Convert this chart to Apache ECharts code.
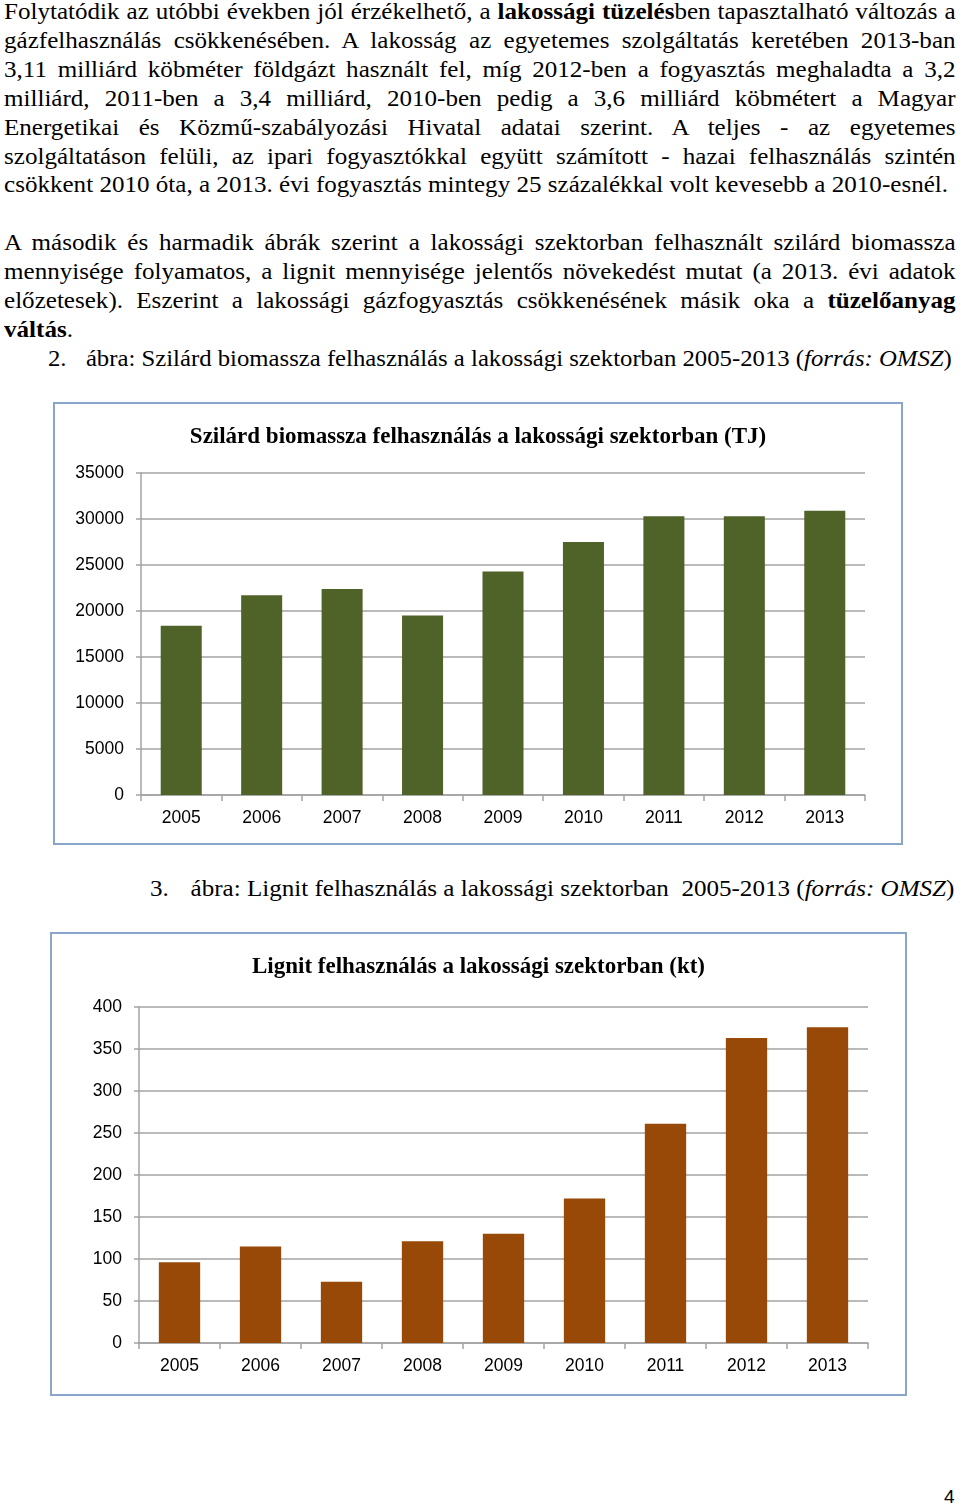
<!DOCTYPE html>
<html>
<head>
<meta charset="utf-8">
<script src="https://cdn.jsdelivr.net/npm/echarts@6/dist/echarts.min.js"></script>
<style>
  html, body { margin: 0; padding: 0; background: #fff; }
  body { width: 960px; height: 1509px; position: relative; overflow: hidden; font-family: "Liberation Serif", "Times New Roman", serif; color: #000; }
  .ln { position: absolute; left: 4px; width: 873px; height: 29px; line-height: 29px; font-size: 23px; white-space: nowrap;
        transform: scaleX(1.09); transform-origin: 0 0; }
  .j { text-align: justify; text-align-last: justify; }
  .box { position: absolute; border: 2px solid #8aa5cc; box-sizing: border-box; }
  .chart { position: absolute; }
</style>
</head>
<body>
<div class="ln j" style="top:-3px">Folytatódik az utóbbi években jól érzékelhető, a <b>lakossági tüzelés</b>ben tapasztalható változás a</div>
<div class="ln j" style="top:26px">gázfelhasználás csökkenésében. A lakosság az egyetemes szolgáltatás keretében 2013-ban</div>
<div class="ln j" style="top:55px">3,11 milliárd köbméter földgázt használt fel, míg 2012-ben a fogyasztás meghaladta a 3,2</div>
<div class="ln j" style="top:84px">milliárd, 2011-ben a 3,4 milliárd, 2010-ben pedig a 3,6 milliárd köbmétert a Magyar</div>
<div class="ln j" style="top:113px">Energetikai és Közmű-szabályozási Hivatal adatai szerint. A teljes - az egyetemes</div>
<div class="ln j" style="top:142px">szolgáltatáson felüli, az ipari fogyasztókkal együtt számított - hazai felhasználás szintén</div>
<div class="ln" style="top:170px">csökkent 2010 óta, a 2013. évi fogyasztás mintegy 25 százalékkal volt kevesebb a 2010-esnél.</div>

<div class="ln j" style="top:228px">A második és harmadik ábrák szerint a lakossági szektorban felhasznált szilárd biomassza</div>
<div class="ln j" style="top:257px">mennyisége folyamatos, a lignit mennyisége jelentős növekedést mutat (a 2013. évi adatok</div>
<div class="ln j" style="top:286px">előzetesek). Eszerint a lakossági gázfogyasztás csökkenésének másik oka a <b>tüzelőanyag</b></div>
<div class="ln" style="top:315px"><b>váltás</b>.</div>
<div class="ln" style="top:344px; left:48px; transform: scaleX(1.075);">2.<span style="display:inline-block;width:18px"></span>ábra: Szilárd biomassza felhasználás a lakossági szektorban 2005-2013 (<i>forrás: OMSZ</i>)</div>

<div class="box" style="left:53px; top:402px; width:850px; height:443px;"></div>
<div class="chart" id="c1" style="left:55px; top:404px; width:846px; height:439px;"></div>

<div class="ln" style="top:874px; left:150px;">3.<span style="display:inline-block;width:20px"></span>ábra: Lignit felhasználás a lakossági szektorban&nbsp; 2005-2013 (<i>forrás: OMSZ</i>)</div>

<div class="box" style="left:50px; top:932px; width:857px; height:464px;"></div>
<div class="chart" id="c2" style="left:52px; top:934px; width:853px; height:460px;"></div>

<div style="position:absolute; left:944px; top:1486px; font-family:'Liberation Sans', Arial, sans-serif; font-size:19px;">4</div>

<script>
const years = ['2005','2006','2007','2008','2009','2010','2011','2012','2013'];
const biomassTJ = [18400, 21700, 22400, 19500, 24300, 27500, 30300, 30300, 30900];
const ligniteKt = [96, 115, 73, 121, 130, 172, 261, 363, 376];
const title1 = 'Szilárd biomassza felhasználás a lakossági szektorban (TJ)';
const title2 = 'Lignit felhasználás a lakossági szektorban (kt)';

function makeOption(title, data, color, max, interval, grid) {
  const gray = '#a3a3a3';
  return {
    animation: false,
    title: {
      text: title, left: 'center', top: 17,
      textStyle: { fontFamily: 'Liberation Serif', fontWeight: 'bold', fontSize: 23, color: '#000' }
    },
    grid: grid,
    xAxis: {
      type: 'category', data: years,
      axisLine: { lineStyle: { color: gray, width: 1.5 } },
      axisTick: { show: true, length: 6, lineStyle: { color: gray, width: 1.5 } },
      axisLabel: { color: '#000', fontFamily: 'Liberation Sans', fontSize: 17.5, margin: 14 }
    },
    yAxis: {
      type: 'value', min: 0, max: max, interval: interval,
      axisLine: { show: true, lineStyle: { color: gray, width: 1.5 } },
      axisTick: { show: true, length: 5, lineStyle: { color: gray, width: 1.5 } },
      splitLine: { lineStyle: { color: gray, width: 1.5 } },
      axisLabel: { color: '#000', fontFamily: 'Liberation Sans', fontSize: 17.5, margin: 17,
                   formatter: function (v) { return String(v); } }
    },
    series: [{
      type: 'bar', data: data, barCategoryGap: '49%',
      itemStyle: { color: color }
    }]
  };
}

const c1 = echarts.init(document.getElementById('c1'), null, { renderer: 'canvas' });
c1.setOption(makeOption(title1, biomassTJ, '#4f6228', 35000, 5000,
  { left: 86, right: 36, top: 69, bottom: 48 }));

const c2 = echarts.init(document.getElementById('c2'), null, { renderer: 'canvas' });
c2.setOption(makeOption(title2, ligniteKt, '#984807', 400, 50,
  { left: 87, right: 37, top: 73, bottom: 51 }));
</script>
</body>
</html>
